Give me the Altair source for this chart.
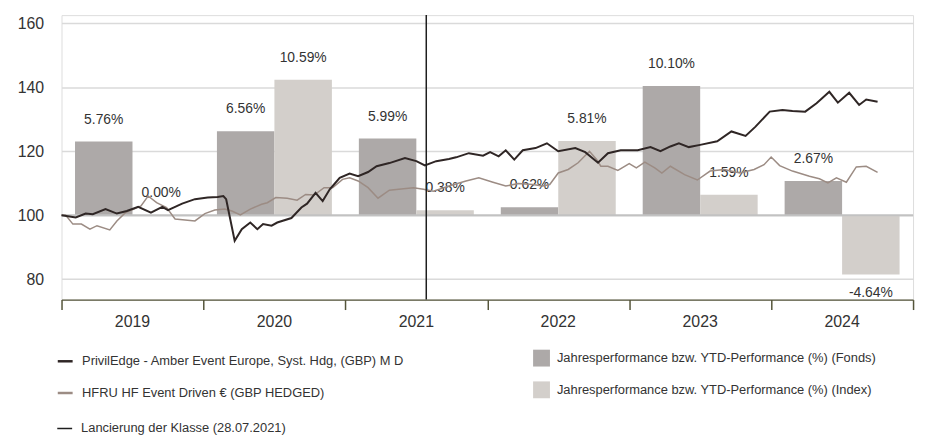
import altair as alt
import pandas as pd

# ---------------- data ----------------
years = ["2019", "2020", "2021", "2022", "2023", "2024"]
fonds_perf = [5.76, 6.56, 5.99, 0.62, 10.10, 2.67]
index_perf = [0.00, 10.59, 0.38, 5.81, 1.59, -4.64]

fund_name = "PrivilEdge - Amber Event Europe, Syst. Hdg, (GBP) M D"
index_name = "HFRU HF Event Driven € (GBP HEDGED)"
bar_fonds = "Jahresperformance bzw. YTD-Performance (%) (Fonds)"
bar_index = "Jahresperformance bzw. YTD-Performance (%) (Index)"
launch_label = "Lancierung der Klasse (28.07.2021)"
launch_t = [2021.57]

fund_t = [2019.00, 2019.10, 2019.17, 2019.22, 2019.31, 2019.39, 2019.46, 2019.54, 2019.63, 2019.71,
          2019.75, 2019.85, 2019.94, 2020.03, 2020.10, 2020.14, 2020.16, 2020.22, 2020.27, 2020.33,
          2020.38, 2020.42, 2020.48, 2020.52, 2020.62, 2020.69, 2020.73, 2020.79, 2020.84, 2020.89,
          2020.96, 2021.03, 2021.09, 2021.16, 2021.22, 2021.31, 2021.42, 2021.50, 2021.56, 2021.64,
          2021.73, 2021.78, 2021.87, 2021.97, 2022.02, 2022.08, 2022.13, 2022.19, 2022.25, 2022.34,
          2022.42, 2022.50, 2022.62, 2022.69, 2022.78, 2022.85, 2022.94, 2023.06, 2023.15, 2023.22,
          2023.29, 2023.35, 2023.42, 2023.50, 2023.62, 2023.72, 2023.82, 2023.89, 2023.99, 2024.08,
          2024.15, 2024.24, 2024.32, 2024.41, 2024.47, 2024.55, 2024.62, 2024.67, 2024.75]
fund_v = [100, 99.3, 100.5, 100.3, 101.9, 100.5, 101.3, 102.6, 100.8, 102.6,
          101.6, 103.6, 105, 105.5, 105.7, 106, 105, 92, 95.6, 97.7,
          95.6, 97.2, 96.7, 97.7, 99.1, 102.4, 103.6, 107, 104.4, 108.1,
          111.7, 113, 112.2, 113.5, 115.3, 116.3, 117.9, 116.9, 115.6, 116.9,
          117.6, 118.1, 119.4, 118.6, 119.7, 118.4, 120.3, 117.4, 120.3, 121,
          122.5, 120, 121, 119.7, 116.4, 119.4, 120.3, 120.3, 121.3, 120,
          121.5, 122.5, 121.3, 122, 123.1, 126.2, 124.8, 127.7, 132.4, 132.9,
          132.6, 132.4, 135, 138.6, 135.2, 138.3, 134.5, 136.2, 135.5]

index_t = [2019.00, 2019.03, 2019.08, 2019.14, 2019.20, 2019.25, 2019.34, 2019.39, 2019.45, 2019.51,
           2019.56, 2019.61, 2019.67, 2019.74, 2019.80, 2019.87, 2019.94, 2020.01, 2020.08, 2020.15,
           2020.20, 2020.26, 2020.33, 2020.41, 2020.45, 2020.51, 2020.59, 2020.66, 2020.72, 2020.78,
           2020.85, 2020.91, 2020.98, 2021.03, 2021.09, 2021.16, 2021.23, 2021.31, 2021.41, 2021.48,
           2021.55, 2021.62, 2021.73, 2021.85, 2021.94, 2022.04, 2022.13, 2022.22, 2022.32, 2022.39,
           2022.44, 2022.50, 2022.57, 2022.64, 2022.72, 2022.77, 2022.80, 2022.85, 2022.92, 2023.00,
           2023.05, 2023.11, 2023.18, 2023.23, 2023.29, 2023.39, 2023.48, 2023.57, 2023.67, 2023.78,
           2023.88, 2023.95, 2024.00, 2024.06, 2024.15, 2024.27, 2024.34, 2024.40, 2024.46, 2024.53,
           2024.60, 2024.67, 2024.75]
index_v = [100, 100, 97.2, 97.2, 95.6, 96.7, 95.4, 98.2, 100.8, 101.9,
           102.9, 106, 103.9, 102.4, 98.8, 98.5, 98.2, 100.5, 101.6, 101.9,
           101.3, 100.1, 101.9, 103.4, 103.9, 105.5, 105.3, 104.7, 106.5, 106.3,
           108.6, 108.6, 111.2, 111.7, 110.7, 108.6, 105.3, 107.8, 108.3, 108.6,
           108.1, 107.5, 109.1, 110.7, 111.7, 110.3, 109.1, 109.9, 109.6, 109.1,
           109.6, 113.2, 114.3, 116.4, 120, 117.4, 115.3, 115.3, 114, 116.1,
           114.8, 116.6, 114.8, 113.2, 115.3, 112.7, 111, 113.8, 114.3, 113.2,
           114.3, 115.8, 118.2, 115.5, 113.8, 112.2, 111.4, 110.1, 111.7, 110.3,
           115.1, 115.3, 113.4]

y_ticks = [80, 100, 120, 140, 160]
x_ticks = [2019, 2020, 2021, 2022, 2023, 2024, 2025]

# ---------------- tables ----------------
bars_df = pd.DataFrame({
    "year": years * 2,
    "serie": [bar_fonds] * len(years) + [bar_index] * len(years),
    "perf": fonds_perf + index_perf,
})
fund_df = pd.DataFrame({"t": fund_t, "v": fund_v, "serie": fund_name})
index_df = pd.DataFrame({"t": index_t, "v": index_v, "serie": index_name})
launch_df = pd.DataFrame({"t": launch_t, "lab": [launch_label]})

# ---------------- styling ----------------
FONT = "Liberation Sans, Arial, sans-serif"
TXT = "#333333"
AXIS_C = "#55553a"
LEG_FS = 13
PCT_FS = 14

Y_MIN, Y_MAX = 73.57, 162.6
BASE, FACTOR = 100, 4
perf_domain = [(Y_MIN - BASE) / FACTOR, (Y_MAX - BASE) / FACTOR]

W, H = 859, 287

# ---------------- bars layer ----------------
x_band = alt.X(
    "year:N",
    scale=alt.Scale(paddingInner=0.19, paddingOuter=0.095),
    axis=alt.Axis(orient="bottom", title=None, ticks=False, domain=False, labelAngle=0,
                  labelPadding=14, labelFont=FONT, labelFontSize=16, labelColor=TXT),
)
x_off = alt.XOffset("serie:N", scale=alt.Scale(domain=[bar_fonds, bar_index]))
y_bar = alt.Y("perf:Q", scale=alt.Scale(domain=perf_domain, nice=False, zero=False), axis=None)

bars = alt.Chart(bars_df).mark_bar().encode(
    x=x_band,
    xOffset=x_off,
    y=y_bar,
    y2=alt.datum(0),
    fill=alt.Fill(
        "serie:N",
        scale=alt.Scale(domain=[bar_fonds, bar_index], range=["#ADA9A8", "#D3CFCB"]),
        legend=alt.Legend(orient="none", legendX=475.7, legendY=337.5, title=None,
                          symbolType="square", symbolSize=289, symbolStrokeWidth=0,
                          labelOffset=7, rowPadding=15, labelFont=FONT, labelFontSize=LEG_FS,
                          labelColor=TXT, padding=0, labelLimit=600),
    ),
)

labels_base = alt.Chart(bars_df).transform_calculate(
    label="replace(format(datum.perf, '.2f'), '\u2212', '-') + '%'"
)
pos_labels = labels_base.transform_filter("datum.perf >= 0").mark_text(
    dy=-18, baseline="alphabetic", font=FONT, fontSize=PCT_FS, color=TXT
).encode(x=x_band, xOffset=x_off, y=y_bar, text="label:N")
neg_labels = labels_base.transform_filter("datum.perf < 0").mark_text(
    dy=23, baseline="alphabetic", font=FONT, fontSize=PCT_FS, color=TXT
).encode(x=x_band, xOffset=x_off, y=y_bar, text="label:N")

bars_layer = alt.layer(bars, pos_labels, neg_labels)

# ---------------- lines layer ----------------
x_lin = alt.X(
    "t:Q",
    scale=alt.Scale(domain=[2019, 2025], nice=False, zero=False),
    axis=alt.Axis(orient="bottom", values=x_ticks, labels=False, grid=False, tickSize=10,
                  tickColor=AXIS_C, tickWidth=1.5, domainColor=AXIS_C, domainWidth=1.5, title=None),
)
y_lin = alt.Y(
    "v:Q",
    scale=alt.Scale(domain=[Y_MIN, Y_MAX], nice=False, zero=False),
    axis=alt.Axis(orient="left", values=y_ticks, grid=True, gridColor="#dadada", gridWidth=1.5,
                  ticks=False, domain=False, labelPadding=18, labelFont=FONT, labelFontSize=16,
                  labelColor=TXT, title=None),
)
line_color = alt.Color(
    "serie:N",
    scale=alt.Scale(domain=[fund_name, index_name], range=["#2f2625", "#9c8c84"]),
    legend=alt.Legend(orient="none", legendX=-5.3, legendY=340.2, title=None,
                      symbolType="stroke", symbolSize=225, symbolStrokeWidth=2.5,
                      labelOffset=8, rowPadding=16, labelFont=FONT, labelFontSize=LEG_FS,
                      labelColor=TXT, padding=0, labelLimit=600),
)

rule100 = alt.Chart(launch_df).mark_rule(color="#c2c2c2", strokeWidth=2).encode(y=alt.datum(100))
index_line = alt.Chart(index_df).mark_line(strokeWidth=1.5).encode(x=x_lin, y=y_lin, color=line_color)
fund_line = alt.Chart(fund_df).mark_line(strokeWidth=2).encode(x=x_lin, y=y_lin, color=line_color)
launch_rule = alt.Chart(launch_df).mark_rule(strokeWidth=1.5).encode(
    x=x_lin,
    stroke=alt.Stroke(
        "lab:N",
        scale=alt.Scale(domain=[launch_label], range=["#1e1e1e"]),
        legend=alt.Legend(orient="none", legendX=-5.3, legendY=408.5, title=None,
                          symbolType="stroke", symbolSize=225, symbolStrokeWidth=1.5,
                          labelOffset=8, labelFont=FONT, labelFontSize=LEG_FS,
                          labelColor=TXT, padding=0, labelLimit=600),
    ),
)

lines_layer = alt.layer(rule100, index_line, fund_line, launch_rule)

chart = (
    alt.layer(bars_layer, lines_layer)
    .resolve_scale(x="independent", y="independent")
    .properties(
        width=W,
        height=H,
        autosize=alt.AutoSizeParams(type="none"),
        padding={"left": 54, "top": 5.3, "right": 7, "bottom": 137},
    )
    .configure_view(strokeWidth=0)
    .configure(background="white")
)

chart.save("out.html", embed_options={"renderer": "svg", "actions": False})
